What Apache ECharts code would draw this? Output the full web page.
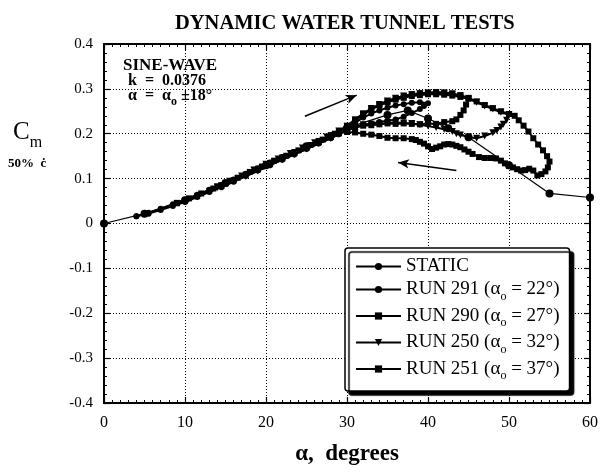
<!DOCTYPE html>
<html>
<head>
<meta charset="utf-8">
<script src="https://cdn.jsdelivr.net/npm/echarts@6/dist/echarts.min.js"></script>
<style>html,body{margin:0;padding:0;background:#fff}#c{width:603px;height:472px}</style>
</head>
<body>
<div id="c"></div>
<script>
// ---- data ----
const xTicks = [0, 10, 20, 30, 40, 50, 60];
const yTicks = [-0.4, -0.3, -0.2, -0.1, 0, 0.1, 0.2, 0.3, 0.4];
const seriesNames = ['STATIC', 'RUN 291', 'RUN 290', 'RUN 250', 'RUN 251'];
const alphaZero = ['', '22°', '27°', '32°', '37°'];

const staticData = [[0,0],[5,0.022],[10,0.052],[15,0.09],[20,0.13],[25,0.172],[30,0.213],[35,0.242],[37.5,0.252],[40,0.234],[42.5,0.212],[45,0.192],[50,0.13],[55,0.067],[60,0.058]];

const run291 = [[4,0.016],[5.5,0.024],[7,0.033],[8.5,0.043],[10,0.053],[11.5,0.064],[13,0.075],[14.5,0.086],[16,0.098],[17.5,0.111],[19,0.123],[20.5,0.136],[22,0.148],[23.5,0.159],[25,0.171],[26.5,0.183],[28,0.196],[29,0.205],[30,0.214],[31,0.225],[32,0.236],[33,0.245],[34,0.252],[35,0.258],[36,0.263],[37,0.266],[38,0.269],[39,0.27],[40,0.268],
  [39.5,0.262],[39,0.255],[38,0.246],[37,0.238],[36,0.232],[35,0.229],[34,0.226],[33,0.223],[32,0.22],[31,0.215],[30,0.208],[29,0.199],[28,0.19],[26.5,0.178],[25,0.166],[23.5,0.154],[22,0.142],[20.5,0.13],[19,0.118],[17.5,0.106],[16,0.093],[14.5,0.081],[13,0.07],[11.5,0.059],[10,0.048],[8.5,0.039],[7,0.03],[5.5,0.022],[4,0.016]];

const run290 = [[9,0.046],[10.5,0.056],[12,0.067],[13.5,0.078],[15,0.089],[16.5,0.102],[18,0.115],[19.5,0.127],[21,0.14],[22.5,0.151],[24,0.163],[25.5,0.175],[27,0.187],[28.5,0.2],[30,0.216],[31,0.229],[32,0.242],[33,0.254],[34,0.263],[35,0.27],[36,0.276],[37,0.28],[38,0.284],[39,0.286],[40,0.288],[41,0.288],[42,0.287],[43,0.285],[44,0.282],[45,0.278],
  [44.7,0.265],[44.4,0.252],[44,0.242],[43.5,0.232],[43,0.228],[42,0.226],[41,0.222],[40,0.223],[39,0.221],[38,0.222],[37,0.223],[36,0.222],[35,0.223],[34,0.221],[33,0.219],[32,0.218],[31,0.214],[30,0.21],[29,0.201],[28,0.193],[26.5,0.181],[25,0.169],[23.5,0.157],[22,0.145],[20.5,0.133],[19,0.121],[17.5,0.109],[16,0.096],[14.5,0.084],[13,0.073],[11.5,0.061],[10,0.051],[9,0.045]];

const run250 = [[14,0.082],[15.5,0.094],[17,0.106],[18.5,0.119],[20,0.132],[21.5,0.144],[23,0.156],[24.5,0.168],[26,0.18],[27.5,0.193],[29,0.206],[30,0.216],[31,0.23],[32,0.244],[33,0.256],[34,0.265],[35,0.273],[36,0.279],[37,0.284],[38,0.287],[39,0.289],[40,0.29],[41,0.291],[42,0.29],[43,0.288],[44,0.284],[45,0.278],[46,0.27],[47,0.262],[48,0.255],[49,0.248],[50,0.242],
  [49.7,0.23],[49.3,0.221],[49,0.215],[48.5,0.207],[48,0.202],[47,0.195],[46,0.19],[45,0.193],[44,0.197],[43.5,0.2],[43,0.205],[42,0.21],[41,0.214],[40,0.217],[39,0.22],[38,0.223],[37,0.224],[36,0.225],[35,0.224],[34,0.222],[33,0.221],[32,0.22],[31,0.214],[30,0.207],[29,0.199],[28,0.19],[26.5,0.178],[25,0.166],[23.5,0.154],[22,0.142],[20.5,0.13],[19,0.117],[17.5,0.105],[16,0.094],[14.5,0.084],[14,0.08]];

const run251 = [[19,0.122],[20.5,0.135],[22,0.147],[23.5,0.159],[25,0.171],[26.5,0.184],[28,0.197],[29,0.206],[30,0.218],[31,0.232],[32,0.245],[33,0.256],[34,0.265],[35,0.273],[36,0.279],[37,0.284],[38,0.288],[39,0.29],[40,0.292],[41,0.293],[42,0.292],[43,0.29],[44,0.286],[45,0.28],[46,0.272],[47,0.264],[48,0.257],[49,0.25],[50,0.244],[50.7,0.24],[51.2,0.23],[51.8,0.218],[52.4,0.205],[53,0.19],[53.6,0.176],[54.2,0.163],[54.7,0.15],[55,0.138],
  [54.8,0.125],[54.5,0.116],[54,0.11],[53.5,0.107],[53,0.118],[52.5,0.122],[52,0.119],[51.5,0.118],[51,0.121],[50.5,0.125],[50,0.128],[49.5,0.134],[49,0.14],[48.4,0.145],[47.7,0.146],[47,0.146],[46.3,0.148],[45.5,0.155],[45,0.16],[44.5,0.165],[44,0.17],[43.5,0.173],[43,0.176],[42.5,0.177],[42,0.176],[41.5,0.172],[41,0.169],[40.5,0.166],[40,0.172],[39.5,0.178],[39,0.182],[38.5,0.186],[38,0.188],[37,0.19],[36,0.19],[35,0.191],[34,0.195],[33,0.198],[32,0.2],[31,0.203],[30,0.204],[29,0.202],[28,0.194],[26.5,0.182],[25,0.17],[23.5,0.158],[22,0.146],[20.5,0.133],[19,0.121]];

const arrowUp = [[24.8, 0.239], [31.2, 0.286]];
const arrowDown = [[43.5, 0.118], [36.3, 0.136]];

// ---- chart ----
const serif = 'Liberation Serif';
const chart = echarts.init(document.getElementById('c'), null, {renderer: 'canvas'});

function mkSeries(name, data, symbol, size, lw, rotate) {
  return {
    name: name, type: 'line', data: data, symbol: symbol, symbolSize: size, symbolRotate: rotate || 0,
    showSymbol: true, showAllSymbol: true,
    lineStyle: {color: '#000', width: lw}, itemStyle: {color: '#000'},
    emphasis: {disabled: true}, animation: false, z: 3
  };
}

const seriesList = [
  mkSeries(seriesNames[0], staticData, 'circle', 8, 1.2),
  mkSeries(seriesNames[1], run291, 'circle', 6, 2),
  mkSeries(seriesNames[2], run290, 'rect', 6, 2),
  mkSeries(seriesNames[3], run250, 'triangle', 7, 2, 180),
  mkSeries(seriesNames[4], run251, 'rect', 6, 2)
];
seriesList[0].markLine = {
  silent: true, animation: false, symbol: ['none', 'arrow'], symbolSize: [7, 11],
  label: {show: false}, lineStyle: {color: '#000', width: 1.5, type: 'solid'},
  data: [
    [{coord: arrowUp[0]}, {coord: arrowUp[1]}],
    [{coord: arrowDown[0]}, {coord: arrowDown[1]}]
  ]
};

const xMin = xTicks[0], xMax = xTicks[xTicks.length - 1], xInt = xTicks[1] - xTicks[0];
const yMin = yTicks[0], yMax = yTicks[yTicks.length - 1], yInt = +(yTicks[1] - yTicks[0]).toFixed(2);

const axisLineStyle = {show: true, onZero: false, lineStyle: {color: '#000', width: 2}};
const axisTickStyle = {show: true, inside: true, length: 6, lineStyle: {color: '#000', width: 1.2}};

const option = {
  animation: false,
  backgroundColor: '#fff',
  grid: {left: 104, right: 13, top: 44, bottom: 69, containLabel: false},
  xAxis: [
    {type: 'value', min: xMin, max: xMax, interval: xInt, position: 'bottom',
      axisLine: axisLineStyle, axisTick: axisTickStyle,
      axisLabel: {color: '#000', fontFamily: serif, fontSize: 16, margin: 12},
      minorTick: {show: true, splitNumber: 10, length: 3, lineStyle: {color: '#000'}},
      splitLine: {show: true, lineStyle: {color: '#000', type: [1, 2], width: 1}},
      name: 'α,  degrees', nameLocation: 'middle', nameGap: 40,
      nameTextStyle: {color: '#000', fontFamily: serif, fontWeight: 'bold', fontSize: 23}
    },
    {type: 'value', min: xMin, max: xMax, interval: xInt, position: 'top',
      axisLine: axisLineStyle, axisTick: axisTickStyle,
      axisLabel: {show: false}, splitLine: {show: false},
      minorTick: {show: true, splitNumber: 10, length: 3, lineStyle: {color: '#000'}}
    }
  ],
  yAxis: [
    {type: 'value', min: yMin, max: yMax, interval: yInt, position: 'left',
      axisLine: axisLineStyle, axisTick: axisTickStyle,
      axisLabel: {color: '#000', fontFamily: serif, fontSize: 15, margin: 11,
        formatter: v => Math.abs(v) < 1e-9 ? '0' : v.toFixed(1)},
      minorTick: {show: true, splitNumber: 5, length: 3, lineStyle: {color: '#000'}},
      splitLine: {show: true, lineStyle: {color: '#000', type: [1, 2], width: 1}}
    },
    {type: 'value', min: yMin, max: yMax, interval: yInt, position: 'right',
      axisLine: axisLineStyle, axisTick: axisTickStyle,
      axisLabel: {show: false}, splitLine: {show: false},
      minorTick: {show: true, splitNumber: 5, length: 3, lineStyle: {color: '#000'}}
    }
  ],
  legend: {
    show: true, orient: 'vertical', left: 345, top: 248,
    data: seriesNames,
    itemWidth: 45, itemHeight: 9, itemGap: 4,
    padding: [9, 10, 9, 10],
    backgroundColor: '#fff', borderColor: '#000', borderWidth: 1.5, borderRadius: 3,
    shadowColor: '#000', shadowBlur: 1, shadowOffsetX: 4, shadowOffsetY: 4,
    selectedMode: false,
    formatter: function (name) {
      const i = seriesNames.indexOf(name);
      if (!alphaZero[i]) return '{t|' + name + '}';
      return '{t|' + name + ' (α}{s|o}{t| = ' + alphaZero[i] + ')}';
    },
    textStyle: {
      color: '#000', fontFamily: serif, fontSize: 19,
      rich: {
        t: {fontFamily: serif, fontSize: 19, color: '#000', lineHeight: 20},
        s: {fontFamily: serif, fontSize: 12, color: '#000', lineHeight: 26, verticalAlign: 'bottom'}
      }
    },
    z: 10
  },
  graphic: [
    {type: 'text', left: 175, top: 13, z: 10,
      style: {text: 'DYNAMIC WATER TUNNEL TESTS', fontFamily: serif, fontWeight: 'bold', fontSize: 20.5, fill: '#000'}},
    {type: 'text', left: 13, top: 120, z: 10,
      style: {text: '{c|C}{m|m}', rich: {
        c: {fontFamily: serif, fontSize: 25, fill: '#000', lineHeight: 30},
        m: {fontFamily: serif, fontSize: 16, fill: '#000', lineHeight: 36, verticalAlign: 'bottom'}
      }}},
    {type: 'text', left: 8, top: 157, z: 10,
      style: {text: '50%  ċ', fontFamily: serif, fontWeight: 'bold', fontSize: 13, fill: '#000'}},
    {type: 'text', left: 123, top: 57, z: 10,
      style: {text: 'SINE-WAVE', fontFamily: serif, fontWeight: 'bold', fontSize: 17, fill: '#000'}},
    {type: 'text', left: 128, top: 73, z: 10,
      style: {text: 'k  =  0.0376', fontFamily: serif, fontWeight: 'bold', fontSize: 16, fill: '#000'}},
    {type: 'text', left: 128, top: 88, z: 10,
      style: {text: '{a|α  =  α}{s|o}{a| ±18°}', rich: {
        a: {fontFamily: serif, fontWeight: 'bold', fontSize: 16, fill: '#000', lineHeight: 17},
        s: {fontFamily: serif, fontWeight: 'bold', fontSize: 12, fill: '#000', lineHeight: 24, verticalAlign: 'bottom'}
      }}}
  ],
  series: seriesList
};
chart.setOption(option);
</script>
</body>
</html>
